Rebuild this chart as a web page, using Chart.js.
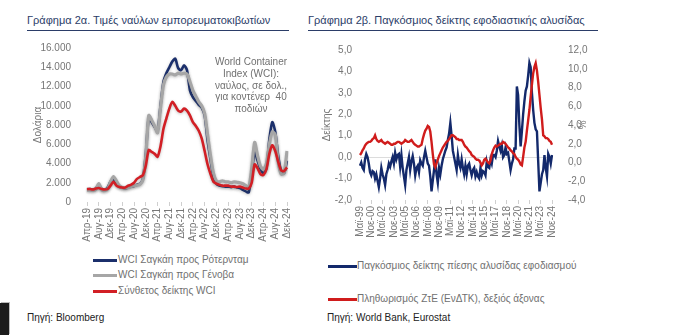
<!DOCTYPE html>
<html>
<head>
<meta charset="utf-8">
<script src="https://cdn.jsdelivr.net/npm/chart.js@4.4.1/dist/chart.umd.min.js"></script>
<style>
body{margin:0;width:700px;height:335px;background:#fff;position:relative;overflow:hidden;font-family:"Liberation Sans",Arial,sans-serif;}
.t{position:absolute;white-space:nowrap;}
.title{font-size:11px;color:#2b3d68;top:14px;}
.rule{position:absolute;height:1px;background:#2b3d68;top:30px;}
.leg{font-size:10px;color:#707070;}
.sw{position:absolute;height:3px;}
.src{font-size:10px;color:#222;top:312px;}
#note{position:absolute;left:205px;top:56px;width:92px;text-align:center;font-size:10px;line-height:11.8px;color:#707070;}
#c1{position:absolute;left:30px;top:40px;}
#c2{position:absolute;left:318px;top:40px;}
#box{position:absolute;left:0;top:303px;width:9px;height:32px;background:#1c1c1c;box-shadow:1px -1px 0 #bbb;}
</style>
</head>
<body>
<div class="t title" style="left:27px">Γράφημα 2α. Τιμές ναύλων εμπορευματοκιβωτίων</div>
<div class="rule" style="left:27px;width:262px"></div>
<div class="t title" style="left:308px">Γράφημα 2β. Παγκόσμιος δείκτης εφοδιαστικής αλυσίδας</div>
<div class="rule" style="left:308px;width:290px"></div>

<canvas id="c1" width="270" height="205"></canvas>
<canvas id="c2" width="276" height="205"></canvas>

<div id="note">World Container<br>Index (WCI):<br>ναύλος, σε δολ.,<br>για κοντένερ&nbsp; 40<br>ποδιών</div>

<div class="sw" style="left:93px;top:259px;width:24px;background:#1b2f6b"></div>
<div class="t leg" style="left:118px;top:254px">WCI Σαγκάη προς Ρότερνταμ</div>
<div class="sw" style="left:93px;top:274px;width:24px;background:#a6a6a6"></div>
<div class="t leg" style="left:118px;top:269px">WCI Σαγκάη προς Γένοβα</div>
<div class="sw" style="left:93px;top:290px;width:24px;background:#d21f25"></div>
<div class="t leg" style="left:118px;top:285px">Σύνθετος δείκτης WCI</div>
<div class="t src" style="left:27px">Πηγή: Bloomberg</div>

<div class="sw" style="left:328px;top:265px;width:29px;background:#13296b"></div>
<div class="t leg" style="left:357px;top:260px">Παγκόσμιος δείκτης πίεσης αλυσίδας εφοδιασμού</div>
<div class="sw" style="left:328px;top:298px;width:29px;background:#d01c1c"></div>
<div class="t leg" style="left:357px;top:293px">Πληθωρισμός ΖτΕ (ΕνΔΤΚ), δεξιός άξονας</div>
<div class="t src" style="left:327px">Πηγή: World Bank, Eurostat</div>

<div id="box"></div>

<script>
// Γράφημα 2α: μηνιαία, Απρ-19 έως Δεκ-24 (δολάρια ανά 40 πόδια)
const wciTicks = ['Απρ-19','Αυγ-19','Δεκ-19','Απρ-20','Αυγ-20','Δεκ-20','Απρ-21','Αυγ-21','Δεκ-21',
  'Απρ-22','Αυγ-22','Δεκ-22','Απρ-23','Αυγ-23','Δεκ-23','Απρ-24','Αυγ-24','Δεκ-24'];
const rotterdam = [
  1300,1350,1300,1400,1800,1350,1250,1500,2100,2400,
  1900,1600,1500,1400,1500,1600,1650,1800,1900,2400,
  5000,8800,8300,7800,7400,10000,12500,13400,14000,14600,
  14900,13900,13700,14200,13700,11600,10900,10500,10100,9800,
  9000,6400,4400,2600,1900,1700,1650,1600,1600,1550,
  1600,1500,1450,1250,1100,1000,3000,5200,4300,3400,
  3000,3500,6500,8300,7300,4800,3200,3000,4300];
const genoa = [
  1200,1250,1200,1300,1900,1250,1200,1350,2100,2650,
  2200,1700,1500,1450,1500,1600,1700,1750,1850,2300,
  4800,9000,8500,7900,7200,9800,12200,13000,13300,13300,
  13200,13400,13300,13400,13300,12500,11600,11000,10400,10000,
  9200,7000,4800,3000,2200,2100,2200,2100,2100,2000,
  2100,2050,2000,1900,1700,1500,3500,6200,4800,3700,
  3400,4000,6000,7300,7000,4200,2900,3000,5300];
const composite = [
  1350,1350,1300,1400,1450,1350,1300,1350,1700,2100,
  1700,1550,1500,1500,1700,1800,2000,2400,2600,2800,
  3800,5400,5200,5000,4700,5800,7600,8700,9700,10400,
  10000,9500,9400,9700,9500,9000,8300,7900,7400,6600,
  5300,3900,2900,2100,1900,1800,1700,1700,1700,1600,
  1600,1550,1600,1500,1400,1400,2000,3900,3500,2900,
  2800,3400,5000,5900,5300,4200,3300,3200,3600];

// Γράφημα 2β: ανά δίμηνο, Μαϊ-99 έως Νοε-24
const gscpiTicks = ['Μαϊ-99','Νοε-00','Μαϊ-02','Νοε-03','Μαϊ-05','Νοε-06','Μαϊ-08','Νοε-09','Μαϊ-11',
  'Νοε-12','Μαϊ-14','Νοε-15','Μαϊ-17','Νοε-18','Μαϊ-20','Νοε-21','Μαϊ-23','Νοε-24'];
const gscpi = [
  -0.4,-0.25,-0.5,-0.6,-0.1,0.15,0.0,-0.3,-0.7,-0.85,
  -0.65,-0.7,-1.0,-0.8,-1.1,-1.4,-1.0,-0.5,-0.8,-1.0,
  -1.3,-0.8,-0.6,-0.3,-0.45,-0.2,0.0,-0.3,0.2,-0.1,
  0.1,0.15,-0.45,0.1,-0.5,-0.9,-1.3,-0.6,-0.3,0.0,
  -0.6,-0.2,0.05,-0.3,-0.85,-0.5,-0.4,-0.7,-0.15,-0.3,
  -0.4,0.0,0.3,0.0,-0.3,-0.4,-0.9,-1.6,-1.1,-0.6,
  -0.1,-0.8,-1.2,-0.5,-0.8,-0.4,-0.1,0.1,0.3,0.45,
  0.8,1.1,1.6,1.0,0.3,0.0,-0.3,-0.6,0.1,-0.3,
  -0.5,-0.1,-0.5,-0.8,-0.4,-0.8,-0.4,-0.3,-0.6,-0.85,
  -0.6,-0.5,-0.9,-0.7,-0.9,-1.0,-0.5,-0.85,-0.65,-0.7,
  -0.85,-0.2,-0.45,-0.5,-0.1,-0.3,0.1,0.1,0.0,0.3,
  0.75,0.5,0.3,0.55,0.0,0.1,0.45,0.15,0.2,-0.2,
  -0.6,-0.3,-0.1,0.4,0.4,3.3,2.9,1.5,0.5,1.2,
  2.0,2.6,3.1,3.3,3.8,4.4,4.2,3.0,2.2,1.6,
  1.3,1.2,-0.2,-1.6,-1.2,-0.8,-0.6,0.1,-0.5,-0.9,
  0.15,0.0,-0.3,0.1];
const hicp = [
  0.8,1.0,1.3,1.5,1.8,2.0,2.1,2.2,2.2,2.3,
  2.5,2.6,2.9,2.5,2.3,2.2,2.3,2.4,2.2,2.1,
  2.0,2.1,2.2,2.1,2.0,1.9,1.9,2.0,2.0,2.1,
  2.2,2.2,2.1,2.0,2.1,2.2,2.4,2.3,2.2,2.2,
  2.3,2.4,2.2,2.0,1.9,1.8,1.7,1.7,1.8,1.9,
  2.5,3.0,3.4,3.6,3.9,3.8,3.3,2.2,0.9,-0.2,
  -0.5,-0.1,0.3,0.7,1.0,1.3,1.6,1.8,2.0,2.2,
  2.3,2.5,2.7,2.9,2.9,2.8,2.7,2.5,2.5,2.4,
  2.4,2.4,2.2,1.9,1.7,1.6,1.4,1.2,1.1,0.8,
  0.7,0.6,0.4,0.3,0.3,0.2,0.0,-0.3,-0.1,0.3,
  0.4,0.2,0.0,-0.1,0.2,0.9,1.3,1.6,1.8,1.7,
  1.8,1.9,2.0,2.0,2.2,2.1,2.0,1.8,1.6,1.5,
  1.3,1.2,1.0,0.9,0.6,0.4,0.3,0.1,-0.2,-0.3,
  0.6,1.6,2.2,3.4,4.5,5.6,7.0,8.3,9.5,10.2,
  10.6,9.8,8.6,7.2,5.8,4.6,2.9,2.8,2.6,2.6,
  2.5,2.3,2.2,1.9];

const grey = '#767676';
const tickFont = {family: 'Liberation Sans', size: 10};
Chart.defaults.font.family = 'Liberation Sans';
Chart.defaults.color = grey;

function thousands(v) {
  return String(v).replace(/\B(?=(\d{3})+(?!\d))/g, '.');
}
function comma(v) {
  return v.toFixed(1).replace('.', ',');
}

const wciLabels = rotterdam.map((_, i) => i % 4 ? '' : wciTicks[i / 4]);
const gscpiLabels = gscpi.map((_, i) => i % 9 ? '' : gscpiTicks[i / 9]);

const glow = {
  id: 'glow',
  beforeDatasetDraw(chart) {
    const c = chart.ctx;
    c.save();
    c.shadowColor = 'rgba(80,80,80,0.35)';
    c.shadowBlur = 3;
    c.shadowOffsetY = 1;
  },
  afterDatasetDraw(chart) {
    chart.ctx.restore();
  }
};

function xAxis(every, h) {
  return {
    type: 'category',
    offset: false,
    grid: {
      drawOnChartArea: false,
      tickLength: 4,
      tickColor: ctx => ctx.index % every === 0 ? '#cfcfcf' : 'rgba(0,0,0,0)'
    },
    border: {display: false},
    ticks: {autoSkip: false, minRotation: 90, maxRotation: 90, padding: 2, font: tickFont, color: grey},
    afterFit(s) { s.height = h; s.paddingLeft = 0; s.paddingRight = 0; }
  };
}

new Chart(document.getElementById('c1'), {
  type: 'line',
  data: {
    labels: wciLabels,
    datasets: [
      {data: composite, borderColor: '#d21f25', borderWidth: 2.6, order: 0},
      {data: genoa, borderColor: '#a6a6a6', borderWidth: 3.2, order: 1},
      {data: rotterdam, borderColor: '#1b2f6b', borderWidth: 2.6, order: 2}
    ]
  },
  options: {
    responsive: false,
    animation: false,
    elements: {point: {radius: 0}, line: {tension: 0.25, fill: false}},
    layout: {padding: {top: 8, right: 13, left: 0, bottom: 0}},
    plugins: {legend: {display: false}, tooltip: {enabled: false}},
    scales: {
      x: xAxis(4, 43),
      y: {
        min: 0, max: 16000,
        grid: {display: false},
        border: {display: false},
        ticks: {stepSize: 2000, padding: 8, font: tickFont, color: grey, callback: v => thousands(v)},
        title: {display: true, text: 'Δολάρια', font: tickFont, color: grey, padding: {top: 2, bottom: 2}},
        afterFit(s) { s.width = 57; s.paddingTop = 0; s.paddingBottom = 0; }
      }
    }
  },
  plugins: [glow]
});

new Chart(document.getElementById('c2'), {
  type: 'line',
  data: {
    labels: gscpiLabels,
    datasets: [
      {data: hicp, yAxisID: 'y2', borderColor: '#d01c1c', borderWidth: 2.4, order: 0},
      {data: gscpi, yAxisID: 'y', borderColor: '#13296b', borderWidth: 2.4, order: 1}
    ]
  },
  options: {
    responsive: false,
    animation: false,
    elements: {point: {radius: 0}, line: {tension: 0, fill: false}},
    layout: {padding: {top: 10, right: 0, left: 0, bottom: 0}},
    plugins: {legend: {display: false}, tooltip: {enabled: false}},
    scales: {
      x: xAxis(9, 45),
      y: {
        position: 'left',
        min: -2, max: 5,
        grid: {
          drawTicks: false,
          color: ctx => ctx.tick.value === 0 ? '#dcdcdc' : 'rgba(0,0,0,0)'
        },
        border: {display: false},
        ticks: {stepSize: 1, padding: 8, font: tickFont, color: grey, callback: v => comma(v)},
        title: {display: true, text: 'Δείκτης', font: tickFont, color: grey, padding: {top: 3, bottom: 2}},
        afterFit(s) { s.width = 42; s.paddingTop = 0; s.paddingBottom = 0; }
      },
      y2: {
        position: 'right',
        min: -4, max: 12,
        grid: {display: false},
        border: {display: false},
        ticks: {stepSize: 2, padding: 8, font: tickFont, color: grey, callback: v => comma(v)},
        title: {display: true, text: '%', font: tickFont, color: grey, padding: {top: 7, bottom: 2}},
        afterFit(s) { s.width = 42; s.paddingTop = 0; s.paddingBottom = 0; }
      }
    }
  }
});
</script>
</body>
</html>
